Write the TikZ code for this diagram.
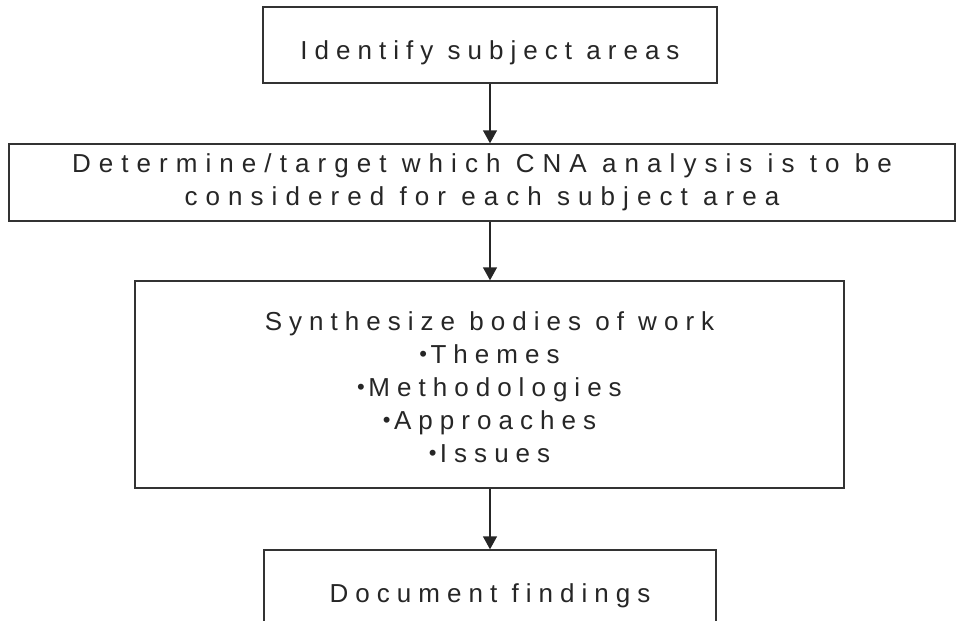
\documentclass[tikz,border=0pt]{standalone}
\usepackage{fontspec}
\setmainfont{Liberation Sans}[LetterSpace=27]
\usetikzlibrary{arrows.meta}

\newcommand{\bulletdot}{\raisebox{2pt}{\fontsize{22}{22}\selectfont\textbullet}\kern3.5pt}

\tikzset{
	stepbox/.style={draw=black!80, line width=1.4pt, minimum height=76pt, inner sep=0pt,
		font=\fontsize{26}{33}\selectfont, text=black!85, align=center},
	wide/.style={font=\fontsize{26}{33}\selectfont\addfontfeatures{LetterSpace=31}},
	flow/.style={draw=black!85, line width=1.4pt, -{Triangle[width=14pt,length=13pt]}}
}

\begin{document}
\begin{tikzpicture}[x=1pt,y=-1pt]
	\clip (0,0) rectangle (959,621);
	\node[stepbox, minimum width=454pt] (ident) at (490,45)
		{\raisebox{-8pt}[\height][\depth]{Identify subject areas}};
	\node[stepbox, wide, minimum width=946pt, minimum height=77pt] (target) at (482,182.5)
		{Determine/target which CNA analysis is to be\\ considered for each subject area};
	\node[stepbox, minimum width=709pt, minimum height=207pt] (synth) at (489.5,384.5)
		{\raisebox{-3pt}[\height][\depth]{Synthesize bodies of work}\\
		\raisebox{-3pt}[\height][\depth]{\bulletdot Themes}\\
		\raisebox{-3pt}[\height][\depth]{\bulletdot Methodologies}\\
		\raisebox{-3pt}[\height][\depth]{\bulletdot Approaches}\\
		\raisebox{-3pt}[\height][\depth]{\bulletdot Issues}};
	\node[stepbox, minimum width=452pt] (findings) at (490,588)
		{\raisebox{-8pt}[\height][\depth]{Document findings}};
	\draw[flow] (ident.south) -- (ident.south |- target.north);
	\draw[flow] (ident.south |- target.south) -- (ident.south |- synth.north);
	\draw[flow] (ident.south |- synth.south) -- (findings.north);
\end{tikzpicture}
\end{document}
